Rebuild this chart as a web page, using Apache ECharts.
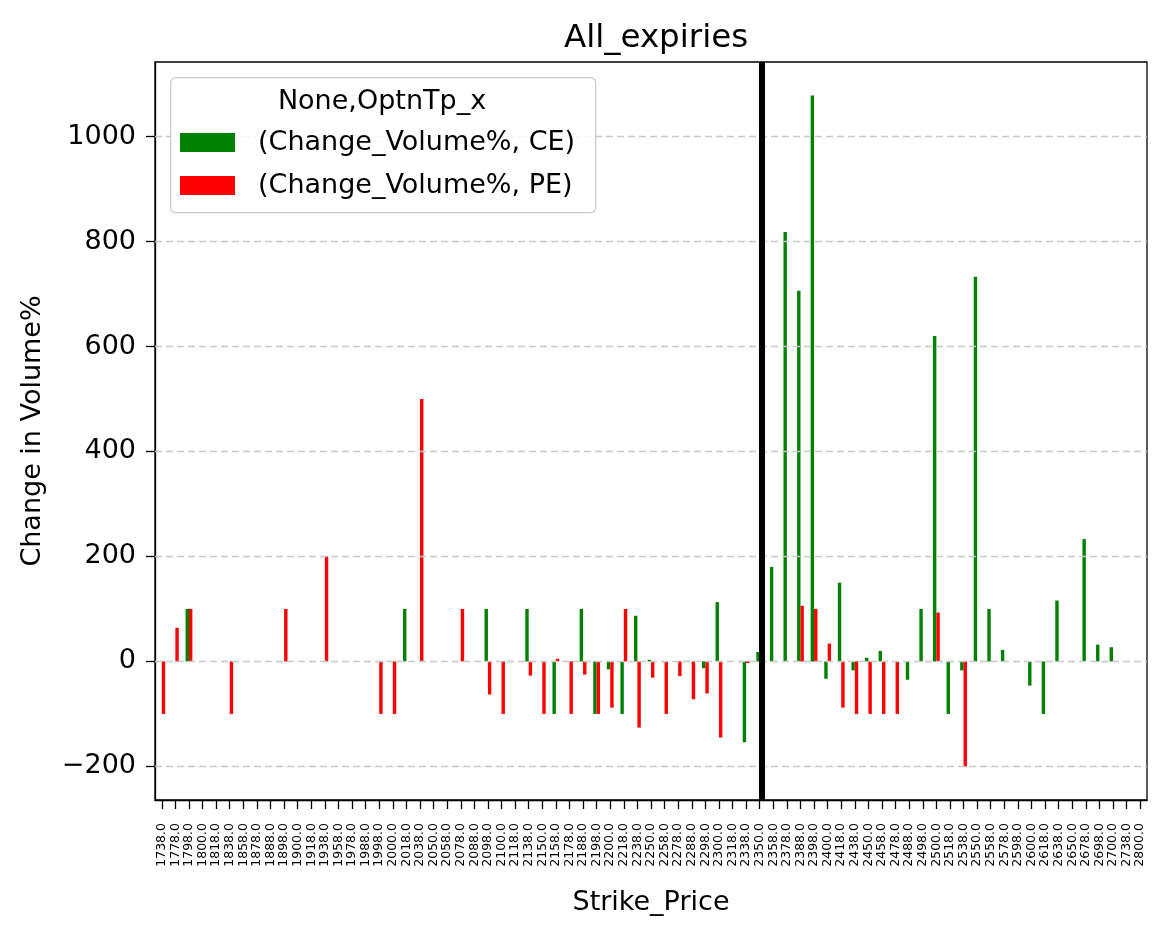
<!DOCTYPE html>
<html>
<head>
<meta charset="utf-8">
<script src="https://cdn.jsdelivr.net/npm/echarts@6/dist/echarts.min.js"></script>
<style>html,body{margin:0;padding:0;background:#fff;}#c{width:1169px;height:939px;}</style>
</head>
<body>
<div id="c"></div>
<script>
const strikes = ['1738.0','1778.0','1798.0','1800.0','1818.0','1838.0','1858.0','1878.0','1888.0','1898.0',
'1900.0','1918.0','1938.0','1958.0','1978.0','1988.0','1998.0','2000.0','2018.0','2038.0',
'2050.0','2058.0','2078.0','2088.0','2098.0','2100.0','2118.0','2138.0','2150.0','2158.0',
'2178.0','2188.0','2198.0','2200.0','2218.0','2238.0','2250.0','2258.0','2278.0','2288.0',
'2298.0','2300.0','2318.0','2338.0','2350.0','2358.0','2378.0','2388.0','2398.0','2400.0',
'2418.0','2438.0','2450.0','2458.0','2478.0','2488.0','2498.0','2500.0','2518.0','2538.0',
'2550.0','2558.0','2578.0','2598.0','2600.0','2618.0','2638.0','2650.0','2678.0','2698.0',
'2700.0','2738.0','2800.0'];

const ceChange = [null,null,100,null,null,null,null,null,null,null,
null,null,null,null,null,null,null,null,100,null,
null,null,null,null,100,null,null,100,null,-100,
null,100,-100,-15,-100,87,3,null,null,null,
-13,113,null,-154,18,180,818,706,1078,-33,
150,-17,7,20,null,-35,100,620,-100,-17,
733,100,22,null,-46,-100,116,null,233,32,
27,null,null];

const peChange = [-100,64,100,null,null,-100,null,null,null,100,
null,null,200,null,null,null,-100,-100,null,500,
null,null,100,null,-63,-100,null,-27,-100,5,
-100,-25,-100,-88,100,-126,-31,-100,-28,-72,
-61,-145,null,-3,null,null,null,106,100,34,
-88,-100,-100,-100,-100,null,null,93,null,-200,
null,null,null,null,null,null,null,null,null,null,
null,null,null];

const yTicks = [-200, 0, 200, 400, 600, 800, 1000];
const atmStrike = '2350.0';
const seriesNames = ['(Change_Volume%, CE)', '(Change_Volume%, PE)'];

const FONT = 'DejaVu Sans';
const chart = echarts.init(document.getElementById('c'), null, {renderer: 'canvas'});
const fmt = v => (v < 0 ? '\u2212' + Math.abs(v) : String(v));

chart.setOption({
  animation: false,
  backgroundColor: '#fff',
  textStyle: {fontFamily: FONT},
  title: {
    text: 'All_expiries',
    left: 651, top: 17, textAlign: 'center',
    textStyle: {fontFamily: FONT, fontSize: 32.5, fontWeight: 'normal', color: '#000'}
  },
  grid: {left: 155, right: 22, top: 62, bottom: 139, show: true, borderColor: '#000', borderWidth: 1.3, backgroundColor: 'transparent'},
  graphic: [
    {type: 'rect', left: 170, top: 77, z: 50,
     shape: {width: 425, height: 135, r: 5},
     style: {fill: 'rgba(255,255,255,0.85)', stroke: '#cccccc', lineWidth: 1.3}},
    {type: 'text', z: 51,
     style: {x: 382, y: 102, text: 'None,OptnTp_x', fill: '#000', font: '27px "DejaVu Sans"', textAlign: 'center', textVerticalAlign: 'middle'}}
  ],
  legend: {
    data: seriesNames,
    orient: 'vertical',
    left: 175, top: 124,
    itemWidth: 55, itemHeight: 19, itemGap: 16,
    icon: 'rect',
    z: 60,
    selectedMode: false,
    textStyle: {fontFamily: FONT, fontSize: 27, color: '#000', padding: [0, 0, 0, 18]}
  },
  xAxis: {
    type: 'category',
    data: strikes,
    name: 'Strike_Price',
    nameLocation: 'middle',
    nameGap: 89,
    nameTextStyle: {fontFamily: FONT, fontSize: 27, color: '#000'},
    axisLine: {show: true, onZero: false, lineStyle: {color: '#000', width: 1.3}},
    axisTick: {show: true, alignWithLabel: true, interval: 0, length: 9, lineStyle: {color: '#000', width: 1.3}},
    axisLabel: {interval: 0, rotate: 90, fontSize: 12.5, color: '#000', fontFamily: FONT, margin: 23},
    splitLine: {show: false}
  },
  yAxis: {
    type: 'value',
    min: -264, max: 1142,
    name: 'Change in Volume%',
    nameLocation: 'middle',
    nameGap: 109,
    nameTextStyle: {fontFamily: FONT, fontSize: 27, color: '#000'},
    axisLine: {show: true, lineStyle: {color: '#000', width: 1.3}},
    axisTick: {show: true, length: 9, customValues: yTicks, lineStyle: {color: '#000', width: 1.3}},
    axisLabel: {customValues: yTicks, formatter: fmt, fontSize: 27, color: '#000', fontFamily: FONT, margin: 19},
    splitLine: {show: false}
  },
  series: [
    {
      name: seriesNames[0], type: 'bar', data: ceChange,
      barWidth: '25%', barGap: '0%',
      itemStyle: {color: '#008000'},
      markLine: {
        symbol: 'none', silent: true, animation: false,
        label: {show: false},
        lineStyle: {color: '#c8c8c8', width: 1.3, type: [7, 4]},
        data: yTicks.map(v => ({yAxis: v}))
      }
    },
    {
      name: seriesNames[1], type: 'bar', data: peChange,
      barWidth: '25%', barGap: '0%',
      itemStyle: {color: '#ff0000'},
      markLine: {
        symbol: 'none', silent: true, animation: false,
        label: {show: false},
        lineStyle: {color: '#000', width: 6, type: 'solid'},
        data: [{xAxis: atmStrike}]
      }
    }
  ]
});
</script>
</body>
</html>
